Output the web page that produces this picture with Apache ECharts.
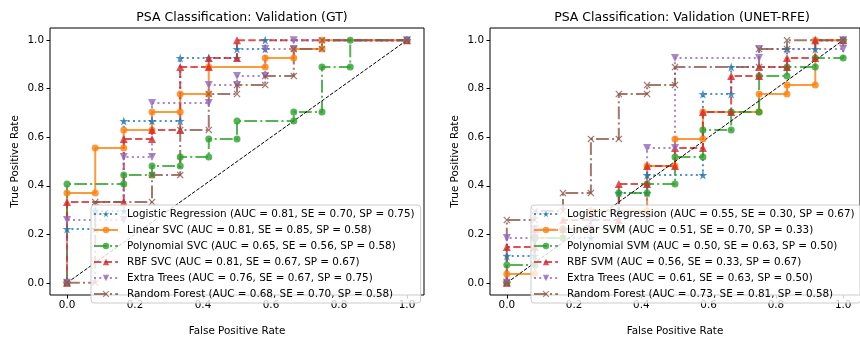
<!DOCTYPE html>
<html>
<head>
<meta charset="utf-8">
<script src="https://cdn.jsdelivr.net/npm/echarts@6/dist/echarts.min.js"></script>
<style>
  html, body { margin: 0; padding: 0; background: #fff; }
  #chart { width: 860px; height: 341px; }
</style>
</head>
<body>
<div id="chart"></div>
<script>
// ROC points (12 negatives, 27 positives per panel)
const tickValues = [0, 0.2, 0.4, 0.6, 0.8, 1.0];

// --- left panel: GT ---
const gtLrFpr = [0, 0, .083, .083, .167, .167, .25, .333, .333, .417, .5, .5, .583, .583, 1];
const gtLrTpr = [0, .222, .222, .296, .296, .667, .667, .667, .926, .926, .926, .963, .963, 1, 1];
const gtLinFpr = [0, 0, .083, .083, .167, .167, .25, .25, .333, .333, .417, .417, .583, .583, .667, .667, .75, .75, 1];
const gtLinTpr = [0, .370, .370, .556, .556, .630, .630, .704, .704, .778, .778, .889, .889, .926, .926, .963, .963, 1, 1];
const gtPolyFpr = [0, 0, .167, .167, .25, .25, .333, .333, .417, .417, .5, .5, .667, .667, .75, .75, .833, .833, 1];
const gtPolyTpr = [0, .407, .407, .444, .444, .481, .481, .519, .519, .593, .593, .667, .667, .704, .704, .889, .889, 1, 1];
const gtRbfFpr = [0, 0, .167, .167, .25, .25, .333, .333, .417, .417, .5, .5, 1];
const gtRbfTpr = [0, .333, .333, .593, .593, .630, .630, .889, .889, .926, .926, 1, 1];
const gtEtFpr = [0, 0, .167, .167, .25, .25, .417, .417, .5, .5, .583, .583, .667, .667, 1];
const gtEtTpr = [0, .259, .259, .519, .519, .741, .741, .815, .815, .852, .852, .963, .963, 1, 1];
const gtRfFpr = [0, .083, .083, .25, .25, .333, .333, .417, .417, .5, .5, .583, .583, .667, .667, .75, .75, 1];
const gtRfTpr = [0, 0, .333, .333, .444, .444, .630, .630, .778, .778, .815, .815, .852, .852, .963, .963, 1, 1];

// --- right panel: UNET-RFE ---
const unLrFpr = [0, 0, .083, .083, .25, .25, .333, .333, .417, .417, .583, .583, .667, .667, .833, .833, .917, .917, 1];
const unLrTpr = [0, .111, .111, .185, .185, .296, .296, .370, .370, .444, .444, .778, .778, .889, .889, .963, .963, 1, 1];
const unLinFpr = [0, 0, .083, .083, .167, .167, .25, .25, .417, .417, .5, .5, .583, .583, .75, .75, .833, .833, .917, .917, 1];
const unLinTpr = [0, .037, .037, .185, .185, .222, .222, .296, .296, .481, .481, .593, .593, .704, .704, .778, .778, .815, .815, 1, 1];
const unPolyFpr = [0, 0, .083, .083, .167, .167, .333, .333, .417, .417, .5, .5, .583, .583, .667, .667, .75, .75, .833, .833, .917, .917, 1, 1];
const unPolyTpr = [0, .074, .074, .185, .185, .222, .222, .370, .370, .407, .407, .519, .519, .630, .630, .704, .704, .852, .852, .889, .889, .926, .926, 1];
const unRbfFpr = [0, 0, .083, .083, .167, .167, .333, .333, .417, .417, .5, .5, .583, .583, .667, .667, .75, .75, .833, .833, .917, .917, 1];
const unRbfTpr = [0, .148, .148, .222, .222, .259, .259, .407, .407, .481, .481, .556, .556, .704, .704, .852, .852, .889, .889, .926, .926, 1, 1];
const unEtFpr = [0, 0, .083, .083, .25, .25, .417, .417, .5, .5, .75, .75, 1, 1];
const unEtTpr = [0, .185, .185, .222, .222, .259, .259, .556, .556, .926, .926, .963, .963, 1];
const unRfFpr = [0, 0, .083, .083, .167, .167, .25, .25, .333, .333, .417, .417, .5, .5, .75, .75, .833, .833, 1];
const unRfTpr = [0, .259, .259, .296, .296, .370, .370, .593, .593, .778, .778, .815, .815, .889, .889, .963, .963, 1, 1];

const gtNames = [
  "Logistic Regression (AUC = 0.81, SE = 0.70, SP = 0.75)",
  "Linear SVC (AUC = 0.81, SE = 0.85, SP = 0.58)",
  "Polynomial SVC (AUC = 0.65, SE = 0.56, SP = 0.58)",
  "RBF SVC (AUC = 0.81, SE = 0.67, SP = 0.67)",
  "Extra Trees (AUC = 0.76, SE = 0.67, SP = 0.75)",
  "Random Forest (AUC = 0.68, SE = 0.70, SP = 0.58)"
];
const unNames = [
  "Logistic Regression (AUC = 0.55, SE = 0.30, SP = 0.67)",
  "Linear SVM (AUC = 0.51, SE = 0.70, SP = 0.33)",
  "Polynomial SVM (AUC = 0.50, SE = 0.63, SP = 0.50)",
  "RBF SVM (AUC = 0.56, SE = 0.33, SP = 0.67)",
  "Extra Trees (AUC = 0.61, SE = 0.63, SP = 0.50)",
  "Random Forest (AUC = 0.73, SE = 0.81, SP = 0.58)"
];

const font = "DejaVu Sans";
const starPath = "path://M5,0 L6.2,3.6 L10,3.6 L6.9,5.9 L8.1,9.5 L5,7.3 L1.9,9.5 L3.1,5.9 L0,3.6 L3.8,3.6 Z";
const crossPath = "path://M0,1.2 L1.2,0 L5,3.8 L8.8,0 L10,1.2 L6.2,5 L10,8.8 L8.8,10 L5,6.2 L1.2,10 L0,8.8 L3.8,5 Z";

// one style per classifier, same order as the names
const styles = [
  { color: "#1f77b4", dash: [2, 3.3], symbol: starPath, size: 9, rotate: 0 },
  { color: "#ff7f0e", dash: "solid", symbol: "circle", size: 7, rotate: 0 },
  { color: "#2ca02c", dash: [12.8, 3.2, 2, 3.2], symbol: "circle", size: 7, rotate: 0 },
  { color: "#d62728", dash: [7.4, 3.2], symbol: "triangle", size: 8, rotate: 0 },
  { color: "#9467bd", dash: [2, 3.3], symbol: "triangle", size: 8, rotate: 180 },
  { color: "#8c564b", dash: [12.8, 3.2, 2, 3.2], symbol: crossPath, size: 7, rotate: 0 }
];

function zip(xs, ys) {
  return xs.map((x, i) => [x, ys[i]]);
}

function curve(name, fpr, tpr, st, idx) {
  return {
    name: name,
    type: "line",
    xAxisIndex: idx,
    yAxisIndex: idx,
    data: zip(fpr, tpr),
    symbol: st.symbol,
    symbolSize: st.size,
    symbolRotate: st.rotate,
    showAllSymbol: true,
    lineStyle: { color: st.color, width: 2, type: st.dash, opacity: 0.8 },
    itemStyle: { color: st.color, opacity: 0.8 },
    emphasis: { disabled: true }
  };
}

function diagonal(idx) {
  return {
    type: "line",
    xAxisIndex: idx,
    yAxisIndex: idx,
    data: [[0, 0], [1, 1]],
    symbol: "none",
    lineStyle: { color: "#000", width: 1, type: [3.7, 1.6] },
    emphasis: { disabled: true }
  };
}

function xAxisFor(idx) {
  return {
    type: "value",
    gridIndex: idx,
    position: "bottom",
    min: -0.05,
    max: 1.05,
    name: "False Positive Rate",
    nameLocation: "middle",
    nameGap: 31,
    nameTextStyle: { color: "#000", fontFamily: font, fontSize: 10.4 },
    axisLine: { show: false, onZero: false },
    axisTick: { show: true, length: 3.5, customValues: tickValues, lineStyle: { color: "#000" } },
    axisLabel: {
      customValues: tickValues,
      margin: 5,
      color: "#000",
      fontFamily: font,
      fontSize: 10.4,
      formatter: v => v.toFixed(1)
    },
    splitLine: { show: false }
  };
}

function yAxisFor(idx) {
  return {
    type: "value",
    gridIndex: idx,
    position: "left",
    min: -0.05,
    max: 1.05,
    name: "True Positive Rate",
    nameLocation: "middle",
    nameGap: 30,
    nameTextStyle: { color: "#000", fontFamily: font, fontSize: 10.4 },
    axisLine: { show: false, onZero: false },
    axisTick: { show: true, length: 3.5, customValues: tickValues, lineStyle: { color: "#000" } },
    axisLabel: {
      customValues: tickValues,
      margin: 6,
      color: "#000",
      fontFamily: font,
      fontSize: 10.4,
      formatter: v => v.toFixed(1)
    },
    splitLine: { show: false }
  };
}

function legendFor(names, left) {
  return {
    data: names,
    orient: "vertical",
    left: left,
    top: 205,
    padding: [3, 6, 3, 2],
    itemWidth: 24,
    itemHeight: 8,
    itemGap: 4,
    backgroundColor: "rgba(255,255,255,0.8)",
    borderColor: "#cccccc",
    borderWidth: 1,
    borderRadius: 3,
    selectedMode: false,
    textStyle: { color: "#000", fontFamily: font, fontSize: 10.4, lineHeight: 12, padding: [0, 0, 0, 4] }
  };
}

const gtSeries = [
  curve(gtNames[0], gtLrFpr, gtLrTpr, styles[0], 0),
  curve(gtNames[1], gtLinFpr, gtLinTpr, styles[1], 0),
  curve(gtNames[2], gtPolyFpr, gtPolyTpr, styles[2], 0),
  curve(gtNames[3], gtRbfFpr, gtRbfTpr, styles[3], 0),
  curve(gtNames[4], gtEtFpr, gtEtTpr, styles[4], 0),
  curve(gtNames[5], gtRfFpr, gtRfTpr, styles[5], 0),
  diagonal(0)
];
const unSeries = [
  curve(unNames[0], unLrFpr, unLrTpr, styles[0], 1),
  curve(unNames[1], unLinFpr, unLinTpr, styles[1], 1),
  curve(unNames[2], unPolyFpr, unPolyTpr, styles[2], 1),
  curve(unNames[3], unRbfFpr, unRbfTpr, styles[3], 1),
  curve(unNames[4], unEtFpr, unEtTpr, styles[4], 1),
  curve(unNames[5], unRfFpr, unRfTpr, styles[5], 1),
  diagonal(1)
];

const chart = echarts.init(document.getElementById("chart"), null, { renderer: "canvas" });
chart.setOption({
  animation: false,
  backgroundColor: "#fff",
  title: [
    { text: "PSA Classification: Validation (GT)", left: 237, top: 6, textAlign: "center",
      textStyle: { color: "#000", fontFamily: font, fontSize: 12.5, fontWeight: "normal" } },
    { text: "PSA Classification: Validation (UNET-RFE)", left: 677, top: 6, textAlign: "center",
      textStyle: { color: "#000", fontFamily: font, fontSize: 12.5, fontWeight: "normal" } }
  ],
  grid: [
    { left: 50, top: 28, width: 374, height: 280.5, show: true, borderColor: "#000", borderWidth: 1, backgroundColor: "transparent" },
    { left: 490, top: 28, width: 374, height: 280.5, show: true, borderColor: "#000", borderWidth: 1, backgroundColor: "transparent" }
  ],
  xAxis: [xAxisFor(0), xAxisFor(1)],
  yAxis: [yAxisFor(0), yAxisFor(1)],
  legend: [legendFor(gtNames, 91), legendFor(unNames, 531)],
  series: gtSeries.concat(unSeries)
});
</script>
</body>
</html>
